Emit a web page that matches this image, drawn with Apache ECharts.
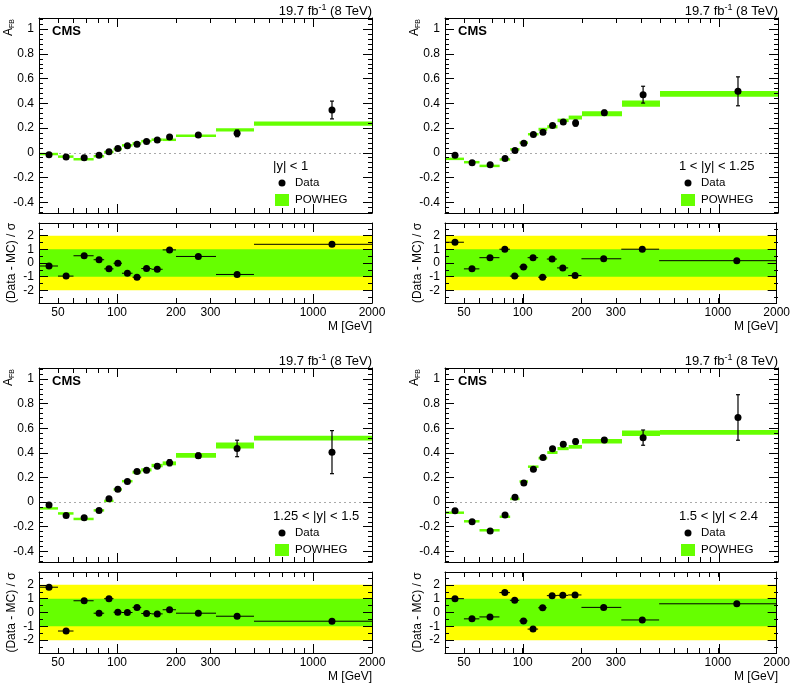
<!DOCTYPE html>
<html><head><meta charset="utf-8">
<script src="https://cdn.jsdelivr.net/npm/echarts@6/dist/echarts.min.js"></script>
<style>html,body{margin:0;padding:0;background:#fff}#c{width:793px;height:684px}</style>
</head><body><div id="c"></div>
<script>
// ---- data ----
const binEdges = [40, 50, 60, 76, 86, 96, 106, 120, 133, 150, 171, 200, 320, 500, 2000];
const binCenters = [45, 55, 68, 81, 91, 101, 113, 126.5, 141.5, 160.5, 185.5, 260, 410, 1250];
const rapidityLabels = ['|y| < 1', '1 < |y| < 1.25', '1.25 < |y| < 1.5', '1.5 < |y| < 2.4'];

const dataAfb1 = [-0.016, -0.035, -0.041, -0.019, 0.008, 0.035, 0.057, 0.068, 0.092, 0.103, 0.127, 0.143, 0.157, 0.346];
const dataErr1 = [0.005, 0.005, 0.005, 0.005, 0.004, 0.005, 0.006, 0.007, 0.008, 0.009, 0.012, 0.012, 0.027, 0.072];
const mcAfb1 = [-0.004, -0.025, -0.046, -0.022, 0.012, 0.035, 0.065, 0.08, 0.097, 0.108, 0.106, 0.138, 0.186, 0.236];
const mcErr1 = [0.004, 0.004, 0.004, 0.004, 0.004, 0.005, 0.005, 0.006, 0.007, 0.008, 0.009, 0.01, 0.013, 0.017];
const pull1 = [-0.22, -0.96, 0.53, 0.24, -0.43, -0.02, -0.75, -1.04, -0.41, -0.46, 0.96, 0.48, -0.84, 1.37];

const dataAfb2 = [-0.02, -0.08, -0.097, -0.047, 0.018, 0.077, 0.147, 0.167, 0.22, 0.248, 0.24, 0.324, 0.47, 0.497];
const dataErr2 = [0.008, 0.008, 0.008, 0.007, 0.006, 0.007, 0.01, 0.012, 0.014, 0.016, 0.025, 0.02, 0.068, 0.117];
const mcAfb2 = [-0.046, -0.073, -0.103, -0.051, 0.03, 0.083, 0.15, 0.19, 0.21, 0.262, 0.285, 0.316, 0.397, 0.476];
const mcErr2 = [0.007, 0.007, 0.007, 0.007, 0.008, 0.009, 0.01, 0.012, 0.013, 0.014, 0.016, 0.02, 0.025, 0.023];
const pull2 = [1.52, -0.43, 0.39, 1.01, -0.96, -0.29, 0.39, -1.04, 0.29, -0.36, -0.92, 0.31, 1.01, 0.17];

const dataAfb3 = [-0.024, -0.109, -0.127, -0.068, 0.027, 0.104, 0.168, 0.249, 0.258, 0.292, 0.32, 0.377, 0.436, 0.406];
const dataErr3 = [0.008, 0.008, 0.008, 0.007, 0.006, 0.007, 0.01, 0.012, 0.018, 0.018, 0.025, 0.022, 0.067, 0.175];
const mcAfb3 = [-0.048, -0.089, -0.134, -0.064, 0.012, 0.104, 0.17, 0.243, 0.262, 0.297, 0.315, 0.38, 0.46, 0.52];
const mcErr3 = [0.007, 0.007, 0.007, 0.007, 0.008, 0.009, 0.01, 0.012, 0.013, 0.014, 0.016, 0.019, 0.024, 0.02];
const pull3 = [1.83, -1.34, 0.85, -0.05, 1.0, 0.02, 0.0, 0.37, -0.07, -0.1, 0.2, -0.05, -0.27, -0.63];

const dataAfb4 = [-0.07, -0.16, -0.234, -0.105, 0.04, 0.156, 0.266, 0.363, 0.433, 0.47, 0.492, 0.504, 0.524, 0.688];
const dataErr4 = [0.008, 0.008, 0.008, 0.007, 0.006, 0.007, 0.01, 0.012, 0.014, 0.016, 0.02, 0.02, 0.062, 0.185];
const mcAfb4 = [-0.083, -0.153, -0.226, -0.116, 0.028, 0.169, 0.288, 0.357, 0.403, 0.435, 0.449, 0.495, 0.559, 0.567];
const mcErr4 = [0.007, 0.007, 0.007, 0.007, 0.008, 0.009, 0.01, 0.011, 0.012, 0.013, 0.015, 0.018, 0.022, 0.02];
const pull4 = [1.0, -0.46, -0.32, 1.44, 0.88, -0.61, -1.2, 0.34, 1.22, 1.24, 1.27, 0.37, -0.54, 0.63];

// ---- tick labels ----
const xTickValues = [40, 50, 60, 70, 80, 90, 100, 200, 300, 400, 500, 600, 700, 800, 900, 1000, 2000];
const xLongTicks = [100, 1000];
const xLabelValues = [50, 100, 200, 300, 1000, 2000];
const afbMajor = [-0.4, -0.2, 0, 0.2, 0.4, 0.6, 0.8, 1];
const afbMinor = [-0.48, -0.44, -0.36, -0.32, -0.28, -0.24, -0.16, -0.12, -0.08, -0.04, 0.04, 0.08, 0.12, 0.16, 0.24, 0.28, 0.32, 0.36, 0.44, 0.48, 0.52, 0.56, 0.64, 0.68, 0.72, 0.76, 0.84, 0.88, 0.92, 0.96, 1.04, 1.08];
const pullMajor = [-2, -1, 0, 1, 2];
const pullMinor = [-2.5, -1.5, -0.5, 0.5, 1.5, 2.5];

const panelsData = [
  {afb: dataAfb1, err: dataErr1, mc: mcAfb1, mcErr: mcErr1, pull: pull1},
  {afb: dataAfb2, err: dataErr2, mc: mcAfb2, mcErr: mcErr2, pull: pull2},
  {afb: dataAfb3, err: dataErr3, mc: mcAfb3, mcErr: mcErr3, pull: pull3},
  {afb: dataAfb4, err: dataErr4, mc: mcAfb4, mcErr: mcErr4, pull: pull4}
];

// ---- layout ----
const layout = [
  {L: 39, T: 18, H: 195, RT: 223, RH: 80},
  {L: 445, T: 18, H: 195, RT: 223, RH: 80},
  {L: 39, T: 368, H: 194, RT: 572, RH: 81},
  {L: 445, T: 368, H: 194, RT: 572, RH: 81}
];
const W = 333;
const FONT = '"Liberation Sans", Arial, Helvetica, sans-serif';
const GREEN = '#66ff00', YELLOW = '#ffff00';
const AFB_MIN = -0.487, AFB_MAX = 1.09, PULL_MIN = -2.93, PULL_MAX = 2.93;

const grid = [], xAxis = [], yAxis = [], series = [], graphic = [];

function addGrid(l, t, h) {
  grid.push({left: l, top: t, width: W, height: h, containLabel: false, show: false});
  return grid.length - 1;
}
function addX(g, pos, ticks, len, showLine, labels) {
  xAxis.push({
    type: 'log', logBase: 10, gridIndex: g, min: 40, max: 2000, position: pos, z: 10,
    axisLine: {show: showLine, onZero: false, lineStyle: {color: '#000', width: 1}},
    splitLine: {show: false}, minorTick: {show: false},
    axisTick: {show: true, inside: true, length: len, customValues: ticks, lineStyle: {color: '#000', width: 1}},
    axisLabel: labels ? {show: true, customValues: labels, color: '#000', fontFamily: FONT, fontSize: 12, margin: 4, formatter: v => String(v)} : {show: false}
  });
  return xAxis.length - 1;
}
function addY(g, pos, min, max, ticks, len, showLine, labels) {
  yAxis.push({
    type: 'value', gridIndex: g, min: min, max: max, position: pos, z: 10,
    axisLine: {show: showLine, onZero: false, lineStyle: {color: '#000', width: 1}},
    splitLine: {show: false},
    axisTick: {show: true, inside: true, length: len, customValues: ticks, lineStyle: {color: '#000', width: 1}},
    axisLabel: labels ? {show: true, customValues: labels, color: '#000', fontFamily: FONT, fontSize: 12, margin: 5, formatter: v => String(Math.round(v * 10) / 10)} : {show: false}
  });
  return yAxis.length - 1;
}

function mcRender(params, api) {
  const p1 = api.coord([api.value(0), api.value(2) + api.value(3)]);
  const p2 = api.coord([api.value(1), api.value(2) - api.value(3)]);
  return {type: 'rect', shape: {x: p1[0], y: p1[1], width: p2[0] - p1[0], height: Math.max(p2[1] - p1[1], 2.5)}, style: {fill: GREEN}};
}
function errRender(params, api) {
  const top = api.coord([api.value(0), api.value(1) + api.value(2)]);
  const bot = api.coord([api.value(0), api.value(1) - api.value(2)]);
  const x = top[0];
  const st = {stroke: '#000', lineWidth: 1.2};
  return {type: 'group', children: [
    {type: 'line', shape: {x1: x, y1: top[1], x2: x, y2: bot[1]}, style: st},
    {type: 'line', shape: {x1: x - 2, y1: top[1], x2: x + 2, y2: top[1]}, style: st},
    {type: 'line', shape: {x1: x - 2, y1: bot[1], x2: x + 2, y2: bot[1]}, style: st}
  ]};
}
function hbarRender(params, api) {
  const a = api.coord([api.value(0), api.value(2)]);
  const b = api.coord([api.value(1), api.value(2)]);
  return {type: 'line', shape: {x1: a[0], y1: a[1], x2: b[0], y2: b[1]}, style: {stroke: '#000', lineWidth: 1}};
}

function txt(x, y, text, opts) {
  graphic.push(Object.assign({type: 'text', x: x, y: y, silent: true, z: 100,
    style: Object.assign({text: text, fill: '#000', font: '12px ' + FONT, align: 'left', verticalAlign: 'middle'}, opts && opts.style || {})},
    opts && opts.extra || {}));
}

layout.forEach((P, i) => {
  const D = panelsData[i];
  // ---- main plot ----
  const gA = addGrid(P.L, P.T, P.H);
  const gB = addGrid(P.L, P.T, P.H);
  const xa = addX(gA, 'bottom', xTickValues, 5, true, null);
  addX(gA, 'top', xTickValues, 5, true, null);
  addX(gB, 'bottom', xLongTicks, 9, false, null);
  addX(gB, 'top', xLongTicks, 9, false, null);
  const ya = addY(gA, 'left', AFB_MIN, AFB_MAX, afbMajor, 9, true, afbMajor);
  addY(gA, 'right', AFB_MIN, AFB_MAX, afbMajor, 9, true, null);
  addY(gB, 'left', AFB_MIN, AFB_MAX, afbMinor, 4, false, null);
  addY(gB, 'right', AFB_MIN, AFB_MAX, afbMinor, 4, false, null);

  const mcData = D.mc.map((v, k) => [binEdges[k], binEdges[k + 1], v, D.mcErr[k]]);
  series.push({type: 'custom', xAxisIndex: xa, yAxisIndex: ya, renderItem: mcRender, data: mcData, encode: {x: [0, 1], y: [2]}, z: 3, silent: true, animation: false});
  const errData = D.afb.map((v, k) => [binCenters[k], v, D.err[k]]);
  series.push({type: 'custom', xAxisIndex: xa, yAxisIndex: ya, renderItem: errRender, data: errData, encode: {x: [0], y: [1]}, z: 4, silent: true, animation: false});
  series.push({type: 'scatter', xAxisIndex: xa, yAxisIndex: ya, symbol: 'circle', symbolSize: 7,
    itemStyle: {color: '#000', opacity: 1}, data: D.afb.map((v, k) => [binCenters[k], v]), z: 5, silent: true, animation: false,
    markLine: {silent: true, symbol: 'none', label: {show: false}, animation: false, z: 2,
      lineStyle: {color: '#aaaaaa', type: [2, 3], width: 1}, data: [{yAxis: 0}]}});

  // ---- ratio plot ----
  const rA = addGrid(P.L, P.RT, P.RH);
  const rB = addGrid(P.L, P.RT, P.RH);
  const rx = addX(rA, 'bottom', xTickValues, 5, true, xLabelValues);
  addX(rA, 'top', xTickValues, 5, true, null);
  addX(rB, 'bottom', xLongTicks, 9, false, null);
  addX(rB, 'top', xLongTicks, 9, false, null);
  const ry = addY(rA, 'left', PULL_MIN, PULL_MAX, pullMajor, 9, true, pullMajor);
  addY(rA, 'right', PULL_MIN, PULL_MAX, pullMajor, 9, true, null);
  addY(rB, 'left', PULL_MIN, PULL_MAX, pullMinor, 4, false, null);
  addY(rB, 'right', PULL_MIN, PULL_MAX, pullMinor, 4, false, null);

  series.push({type: 'custom', xAxisIndex: rx, yAxisIndex: ry, renderItem: hbarRender,
    data: D.pull.map((v, k) => [binEdges[k], binEdges[k + 1], v]), encode: {x: [0, 1], y: [2]}, z: 4, silent: true, animation: false});
  series.push({type: 'scatter', xAxisIndex: rx, yAxisIndex: ry, symbol: 'circle', symbolSize: 7,
    itemStyle: {color: '#000', opacity: 1}, data: D.pull.map((v, k) => [binCenters[k], v]), z: 5, silent: true, animation: false,
    markArea: {silent: true, animation: false, data: [
      [{yAxis: -2, itemStyle: {color: YELLOW, opacity: 1}}, {yAxis: 2}],
      [{yAxis: -1, itemStyle: {color: GREEN, opacity: 1}}, {yAxis: 1}]
    ]}});

  // ---- texts ----
  txt(P.L + 13, P.T + 13, 'CMS', {style: {font: 'bold 13px ' + FONT}});
  txt(P.L + W, P.T - 7, '19.7 fb{sup|-1} (8 TeV)', {style: {font: '13px ' + FONT, align: 'right',
    rich: {sup: {fontSize: 9, fontFamily: FONT, verticalAlign: 'top', padding: [0, 0, 6, 0]}}}});
  txt(P.L + 234, P.T + 148, rapidityLabels[i], {style: {font: '13px ' + FONT}});
  graphic.push({type: 'circle', shape: {cx: P.L + 243, cy: P.T + 165, r: 3.5}, style: {fill: '#000'}, silent: true, z: 100});
  txt(P.L + 256, P.T + 165, 'Data', {style: {font: '11.5px ' + FONT}});
  graphic.push({type: 'rect', shape: {x: P.L + 236, y: P.T + 176, width: 14, height: 12}, style: {fill: GREEN}, silent: true, z: 100});
  txt(P.L + 256, P.T + 182, 'POWHEG', {style: {font: '11.5px ' + FONT}});
  txt(P.L - 30, P.T + 1, 'A{s|FB}', {style: {font: '12px ' + FONT, align: 'right',
    rich: {s: {fontSize: 7, fontFamily: FONT, verticalAlign: 'bottom', padding: [6, 0, 0, 0]}}}, extra: {rotation: Math.PI / 2}});
  txt(P.L - 27, P.RT + P.RH / 2, '(Data - MC) / σ', {style: {font: '12px ' + FONT, align: 'center'}, extra: {rotation: Math.PI / 2}});
  txt(P.L + W, P.RT + P.RH + 24, 'M [GeV]', {style: {font: '12px ' + FONT, align: 'right'}});
});

const chart = echarts.init(document.getElementById('c'), null, {renderer: 'canvas'});
chart.setOption({animation: false, backgroundColor: '#fff', grid, xAxis, yAxis, series, graphic});
</script>
</body></html>
